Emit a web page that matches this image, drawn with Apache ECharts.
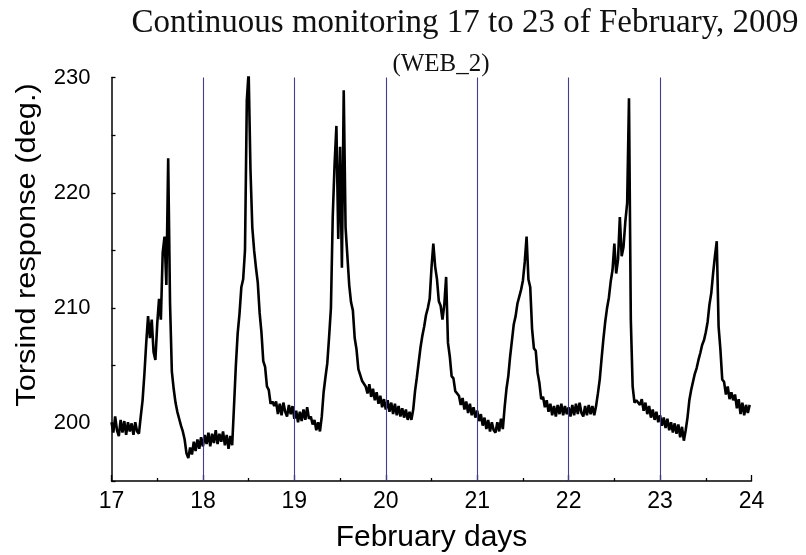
<!DOCTYPE html>
<html>
<head>
<meta charset="utf-8">
<script src="https://cdn.jsdelivr.net/npm/echarts@6/dist/echarts.min.js"></script>
<style>html,body{margin:0;padding:0;background:#fff}#chart{width:806px;height:555px}</style>
</head>
<body>
<div id="chart"></div>
<script>
const titleText = 'Continuous monitoring 17 to 23 of February, 2009';
const subtitleText = '(WEB_2)';
const xAxisName = 'February days';
const yAxisName = 'Torsind response (deg.)';
const dayLines = [18, 19, 20, 21, 22, 23];
const startDay = 17;
const dayStep = 0.02;
const torsion = [
  200.1,199.2,200.6,199.4,198.9,200.3,199.2,200.2,199.0,200.1,
  199.3,200.0,199.0,200.1,199.3,199.1,200.6,202.0,204.3,207.0,
  209.3,207.4,209.0,206.2,205.5,208.6,210.8,209.0,214.8,216.2,
  212.0,223.0,210.5,204.5,203.0,201.8,201.0,200.4,199.8,199.3,
  198.6,197.4,197.0,197.9,197.3,198.4,197.6,198.6,197.8,198.8,
  198.0,199.0,198.2,199.2,198.0,199.1,198.3,199.4,198.2,199.1,
  198.4,199.3,198.1,199.0,197.8,198.9,198.1,201.5,205.0,207.8,
  209.5,211.8,212.5,215.0,228.0,230.5,222.0,217.0,215.0,213.5,
  212.2,209.6,207.9,205.4,204.9,203.2,202.9,201.7,201.9,201.5,
  201.9,200.8,201.7,200.7,201.8,201.0,200.6,201.6,200.8,201.5,
  200.4,201.1,200.1,201.0,200.2,201.2,200.3,201.4,200.4,200.6,
  199.9,200.3,199.4,200.1,199.3,200.6,202.7,204.0,205.2,207.5,
  210.0,218.0,222.5,225.8,216.0,224.0,213.5,228.9,217.0,214.5,
  212.0,210.5,209.8,207.4,206.4,204.7,204.6,203.7,203.8,203.2,
  202.6,203.4,202.3,203.0,202.0,202.7,201.7,202.4,201.4,202.1,
  201.2,202.0,201.0,201.8,200.8,201.7,200.7,201.5,200.6,201.3,
  200.5,201.2,200.3,201.0,200.3,201.2,202.8,204.0,205.3,206.6,
  207.6,208.4,209.4,210.0,210.8,213.5,215.6,213.6,212.5,210.6,
  210.2,209.0,210.3,212.7,207.0,205.8,204.1,203.9,202.8,202.9,
  202.4,201.6,202.2,201.2,201.9,200.9,201.7,200.7,201.4,200.5,
  201.1,200.2,200.8,199.8,200.5,199.5,200.3,199.3,200.1,199.4,
  199.2,200.1,199.3,200.4,199.5,201.4,203.0,204.1,205.8,207.2,
  208.6,209.3,210.4,211.0,211.6,212.4,214.0,216.2,212.5,211.8,
  208.2,206.5,206.3,204.4,203.5,202.1,202.3,201.4,202.0,201.0,
  201.7,200.7,201.5,200.6,201.6,200.8,201.7,200.7,201.5,200.8,
  201.4,200.6,201.6,200.7,201.7,200.8,201.8,200.9,200.6,201.5,
  200.7,201.6,200.8,201.5,200.7,201.5,202.6,203.8,205.6,207.3,
  208.8,210.0,210.9,212.3,213.3,215.6,213.0,214.2,217.9,214.5,
  215.3,217.5,219.1,228.2,209.0,203.2,201.8,202.0,201.9,201.6,
  202.1,201.1,201.8,200.8,201.5,200.5,201.2,200.3,201.0,200.1,
  200.7,199.8,200.5,199.6,200.4,199.4,200.1,199.2,200.0,199.1,
  199.9,198.8,199.7,198.5,199.4,200.5,202.0,202.9,203.6,204.3,
  204.8,205.5,206.1,206.8,207.2,207.9,208.8,210.3,211.3,213.0,
  214.5,215.8,208.4,206.4,203.8,203.6,202.5,203.2,202.1,202.7,
  202.0,202.5,201.3,202.1,200.8,201.8,200.7,201.6,200.9,201.6
];

const seriesData = torsion.map((v, i) => [+(startDay + i * dayStep).toFixed(2), v]);

const chart = echarts.init(document.getElementById('chart'), null, { renderer: 'canvas' });
const sans = '"Liberation Sans", Arial, sans-serif';
const serif = '"Liberation Serif", "Times New Roman", serif';

chart.setOption({
  animation: false,
  backgroundColor: '#ffffff',
  grid: { left: 111.5, right: 54.5, top: 77.5, bottom: 74, containLabel: false, outerBoundsMode: 'none' },
  xAxis: {
    type: 'value', min: 17, max: 24, interval: 1,
    axisLine: { show: true, onZero: false, lineStyle: { color: '#000', width: 1.5 } },
    axisTick: { show: true, inside: true, length: 6, lineStyle: { color: '#000', width: 1.3 } },
    minorTick: { show: true, splitNumber: 2, length: 3, lineStyle: { color: '#000', width: 1.3 } },
    axisLabel: { color: '#000', fontSize: 23, fontFamily: sans, margin: 9 },
    splitLine: { show: false }, minorSplitLine: { show: false }
  },
  yAxis: {
    type: 'value', min: 195, max: 230, interval: 5,
    axisLine: { show: true, onZero: false, lineStyle: { color: '#000', width: 1.5 } },
    axisTick: { show: true, inside: true, length: 4, lineStyle: { color: '#000', width: 1.3 } },
    axisLabel: { color: '#000', fontSize: 22, fontFamily: sans, margin: 21,
      formatter: v => (v % 10 === 0 ? String(v) : '') },
    splitLine: { show: false }
  },
  graphic: [
    { type: 'text', x: 465, y: 23.5, silent: true,
      style: { text: titleText, fontSize: 33, fontFamily: serif, fill: '#111', align: 'center', verticalAlign: 'middle' } },
    { type: 'text', x: 441, y: 64, silent: true,
      style: { text: subtitleText, fontSize: 25, fontFamily: serif, fill: '#111', align: 'center', verticalAlign: 'middle' } },
    { type: 'text', x: 431.5, y: 537.5, silent: true,
      style: { text: xAxisName, fontSize: 30, fontFamily: sans, fill: '#000', align: 'center', verticalAlign: 'middle' } },
    { type: 'text', x: 27.5, y: 245, rotation: Math.PI / 2, scaleX: 1.14, silent: true,
      style: { text: yAxisName, fontSize: 27, fontFamily: sans, fill: '#000', align: 'center', verticalAlign: 'middle' } }
  ],
  series: [
    { type: 'line', data: [], z: 1, silent: true,
      markLine: { silent: true, symbol: ['none', 'none'], animation: false,
        label: { show: false }, emphasis: { disabled: true },
        lineStyle: { color: '#3f3f8f', width: 1.1, type: 'solid' },
        data: dayLines.map(d => ({ xAxis: d })) } },
    { type: 'line', data: seriesData, z: 2, showSymbol: false, symbol: 'none', clip: true,
      lineStyle: { color: '#000', width: 2.6 }, emphasis: { disabled: true } }
  ]
});
</script>
</body>
</html>
